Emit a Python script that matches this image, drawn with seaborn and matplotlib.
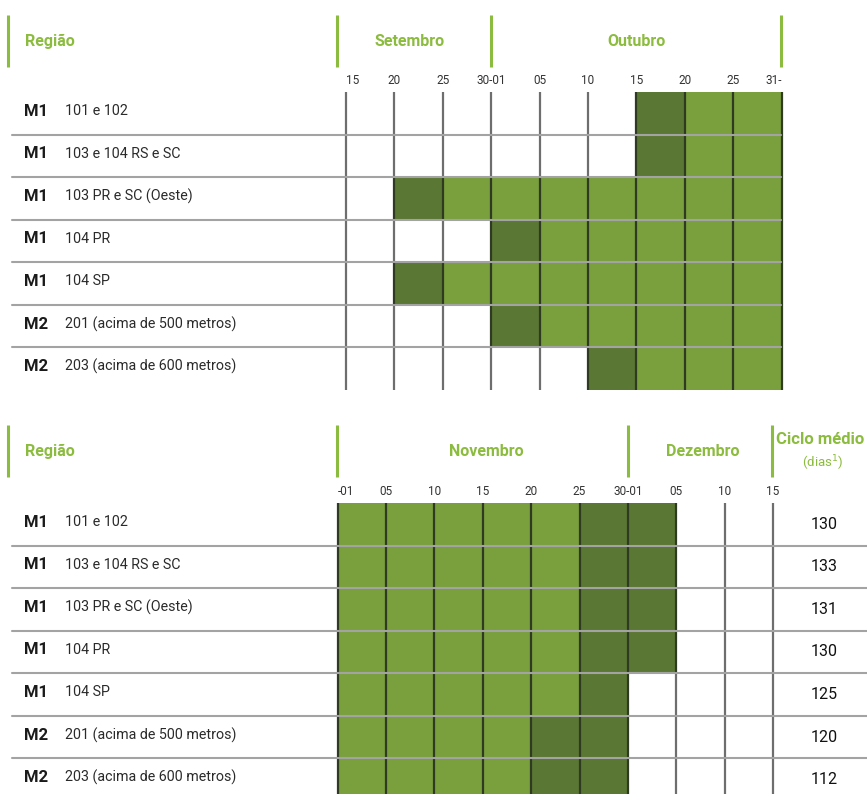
import numpy as np
import pandas as pd
import matplotlib.pyplot as plt
import seaborn as sns
from matplotlib.colors import ListedColormap

# dados do calendário de semeadura
grupos = ['M1', 'M1', 'M1', 'M1', 'M1', 'M2', 'M2']
regioes = ['101 e 102', '103 e 104 RS e SC', '103 PR e SC (Oeste)', '104 PR', '104 SP',
           '201 (acima de 500 metros)', '203 (acima de 600 metros)']
ticks_set_out = ['15', '20', '25', '30-01', '05', '10', '15', '20', '25', '31-']
ticks_nov_dez = ['-01', '05', '10', '15', '20', '25', '30-01', '05', '10', '15']
# 0 = fora da época, 1 = época recomendada, 2 = início / fim (verde escuro)
set_out = [
    [0, 0, 0, 0, 0, 0, 2, 1, 1],
    [0, 0, 0, 0, 0, 0, 2, 1, 1],
    [0, 2, 1, 1, 1, 1, 1, 1, 1],
    [0, 0, 0, 2, 1, 1, 1, 1, 1],
    [0, 2, 1, 1, 1, 1, 1, 1, 1],
    [0, 0, 0, 2, 1, 1, 1, 1, 1],
    [0, 0, 0, 0, 0, 2, 1, 1, 1],
]
nov_dez = [
    [1, 1, 1, 1, 1, 2, 2, 0, 0],
    [1, 1, 1, 1, 1, 2, 2, 0, 0],
    [1, 1, 1, 1, 1, 2, 2, 0, 0],
    [1, 1, 1, 1, 1, 2, 2, 0, 0],
    [1, 1, 1, 1, 1, 2, 0, 0, 0],
    [1, 1, 1, 1, 2, 2, 0, 0, 0],
    [1, 1, 1, 1, 2, 2, 0, 0, 0],
]
ciclo = [130, 133, 131, 130, 125, 120, 112]

VERDE = '#7aa03e'
VERDE_ESC = '#5b7734'
VERDE_TXT = '#8cbc3f'
W, H = 867, 794

sns.set_theme(style='white')
plt.rcParams['font.family'] = ['Roboto', 'DejaVu Sans']

fig = plt.figure(figsize=(W / 100, H / 100), dpi=100)
fig.patch.set_facecolor('white')


def px_axes(x0, y0, x1, y1):
    return fig.add_axes([x0 / W, 1 - y1 / H, (x1 - x0) / W, (y1 - y0) / H])


cmap = ListedColormap(['white', VERDE, VERDE_ESC])
col_w = 48.4
row_h = 42.55


def tabela(valores, ticks, x0, y0, primeiro_esq, ultimo_dir):
    df = pd.DataFrame(valores, index=regioes)
    nr, nc = df.shape
    ax = px_axes(x0, y0, x0 + nc * col_w, y0 + nr * row_h)
    sns.heatmap(df, cmap=cmap, vmin=-0.5, vmax=2.5, cbar=False, ax=ax,
                linewidths=0, xticklabels=False, yticklabels=False)
    # linhas verticais: escuras junto das células verdes, cinzas no vazio
    v = df.values
    for c in range(nc + 1):
        for r in range(nr):
            esq = v[r, c - 1] if c > 0 else 0
            dir_ = v[r, c] if c < nc else 0
            cor = '#2f3a22' if (esq or dir_) else '#6e6e6e'
            ax.vlines(c, r, r + 1, color=cor, lw=1.6, clip_on=False)
    ax.xaxis.tick_top()
    ax.set_xticks(np.arange(nc + 1))
    ax.set_xticklabels(ticks, fontsize=8.5, color='#333333')
    ax.tick_params(axis='x', length=0, pad=3.5, top=True, bottom=False)
    labs = ax.get_xticklabels()
    if primeiro_esq:
        labs[0].set_ha('left')
    if ultimo_dir:
        labs[-1].set_ha('right')
    ax.set_ylabel('')
    for s in ax.spines.values():
        s.set_visible(False)
    return ax


tabela(set_out, ticks_set_out, 346, 92, True, True)
tabela(nov_dez, ticks_nov_dez, 337.5, 503, True, False)

# camada de textos e linhas em coordenadas de pixel
ov = fig.add_axes([0, 0, 1, 1])
ov.set_xlim(0, W)
ov.set_ylim(H, 0)
ov.axis('off')


def cabecalho(y_top, barras, meses, ciclo_col=False):
    for x in barras:
        ov.plot([x, x], [y_top, y_top + 52], color=VERDE_TXT, lw=2.2, solid_capstyle='butt')
    ov.text(25, y_top + 26, 'Região', color=VERDE_TXT, fontsize=11.5,
            fontweight='bold', va='center', ha='left')
    for nome, xc in meses:
        ov.text(xc, y_top + 26, nome, color=VERDE_TXT, fontsize=11.5,
                fontweight='bold', va='center', ha='center')
    if ciclo_col:
        ov.text(820, y_top + 14, 'Ciclo médio', color=VERDE_TXT, fontsize=12,
                fontweight='bold', va='center', ha='center')
        ov.text(823, y_top + 38, '(dias$^{1}$)', color=VERDE_TXT, fontsize=9.5,
                va='center', ha='center')


def linhas(y0, x_fim, com_ciclo=False):
    for i, (g, reg) in enumerate(zip(grupos, regioes)):
        yc = y0 + (i + 0.5) * row_h
        ov.text(24, yc - 2, g, fontsize=12, fontweight='bold', color='#1a1a1a',
                va='center', ha='left')
        ov.text(65, yc - 2, reg, fontsize=10.3, color='#2a2a2a', va='center', ha='left')
        if com_ciclo:
            ov.text(824, yc, str(ciclo[i]), fontsize=11.5, color='#111111',
                    va='center', ha='center')
        if i > 0:
            yl = y0 + i * row_h
            ov.plot([12, x_fim], [yl, yl], color='#a3a3a3', lw=1.5)


cabecalho(15, [8, 337, 491, 781], [('Setembro', 410), ('Outubro', 636)])
linhas(92, 781)
cabecalho(425, [8, 337, 628, 772], [('Novembro', 486), ('Dezembro', 703)], ciclo_col=True)
linhas(503, 867, com_ciclo=True)

plt.savefig('out.png', dpi=100, facecolor='white')
